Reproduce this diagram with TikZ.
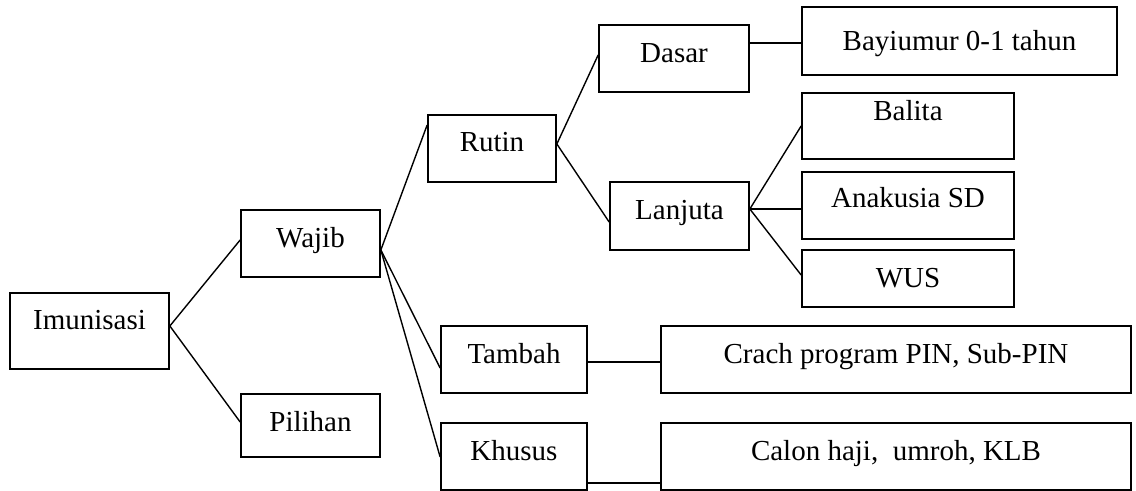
\documentclass[tikz,border=0pt]{standalone}
\usepackage{fontspec}
\setmainfont{Liberation Serif}
\usetikzlibrary{calc}
\begin{document}
\begin{tikzpicture}[x=0.5pt,y=-0.5pt,
  bx/.style n args={4}{draw=black, line width=0.85pt, inner sep=0pt, rectangle,
    minimum width=#1, minimum height=#2, text height=#3, text depth=#4,
    font=\fontsize{14.5pt}{17pt}\selectfont},
  conn/.style={draw=black, line width=0.7pt}]
\useasboundingbox (0,0) rectangle (1136,491);
% boxes
\node[bx={79.5pt}{38pt}{18.5pt}{19.5pt}] (imun) at (89.5,331) {Imunisasi};
\node[bx={69.5pt}{33.5pt}{19pt}{14.5pt}] (wajib) at (310.5,243.5) {Wajib};
\node[bx={69.5pt}{31.5pt}{19pt}{12.5pt}] (pilihan) at (310.5,425.5) {Pilihan};
\node[bx={64pt}{33.5pt}{18.5pt}{15pt}] (rutin) at (492,148.5) {Rutin};
\node[bx={75pt}{33.5pt}{19pt}{14.5pt}] (dasar) at (674,58.5) {Dasar};
\node[bx={69.5pt}{34pt}{19pt}{15pt}] (lanjuta) at (679.5,216) {Lanjuta};
\node[bx={157.5pt}{34pt}{22pt}{12pt}] (bayi) at (959.5,41) {Bayiumur 0-1 tahun};
\node[bx={106pt}{33pt}{14pt}{19pt}] (balita) at (908,126) {Balita};
\node[bx={106pt}{33.5pt}{18pt}{15.5pt}] (anak) at (908,205.5) {Anakusia SD};
\node[bx={106pt}{28.5pt}{19pt}{9.5pt}] (wus) at (908,278.5) {WUS};
\node[bx={73pt}{33.5pt}{19pt}{14.5pt}] (tambah) at (514,359.5) {Tambah};
\node[bx={235pt}{33.5pt}{19pt}{14.5pt}] (crach) at (896,359.5) {Crach program PIN, Sub-PIN};
\node[bx={73pt}{33.5pt}{19pt}{14.5pt}] (khusus) at (514,456.5) {Khusus};
\node[bx={235pt}{33.5pt}{19pt}{14.5pt}] (calon) at (896,456.5) {Calon haji,\ \ umroh, KLB};
% connectors
\draw[conn] ($(imun.east)+(0,-5)$) -- ($(wajib.west)+(0,-3.5)$);
\draw[conn] ($(imun.east)+(0,-5)$) -- ($(pilihan.west)+(0,-3.5)$);
\draw[conn] ($(wajib.east)+(0,6.5)$) -- ($(rutin.west)+(0,-23.5)$);
\draw[conn] ($(wajib.east)+(0,6.5)$) -- ($(tambah.west)+(0,8.5)$);
\draw[conn] ($(wajib.east)+(0,6.5)$) -- ($(khusus.west)+(0,0.5)$);
\draw[conn] ($(rutin.east)+(0,-4.5)$) -- ($(dasar.west)+(0,-3.5)$);
\draw[conn] ($(rutin.east)+(0,-4.5)$) -- ($(lanjuta.west)+(0,6)$);
\draw[conn] ($(dasar.east)+(0,-15.5)$) -- ($(bayi.west)+(0,2)$);
\draw[conn] ($(lanjuta.east)+(0,-7)$) -- (balita.west);
\draw[conn] ($(lanjuta.east)+(0,-7)$) -- ($(anak.west)+(0,3.5)$);
\draw[conn] ($(lanjuta.east)+(0,-7)$) -- ($(wus.west)+(0,-3.5)$);
\draw[conn] ($(tambah.east)+(0,2.5)$) -- ($(crach.west)+(0,2.5)$);
\draw[conn] ($(khusus.east)+(0,26.5)$) -- ($(calon.west)+(0,26.5)$);
\end{tikzpicture}
\end{document}
